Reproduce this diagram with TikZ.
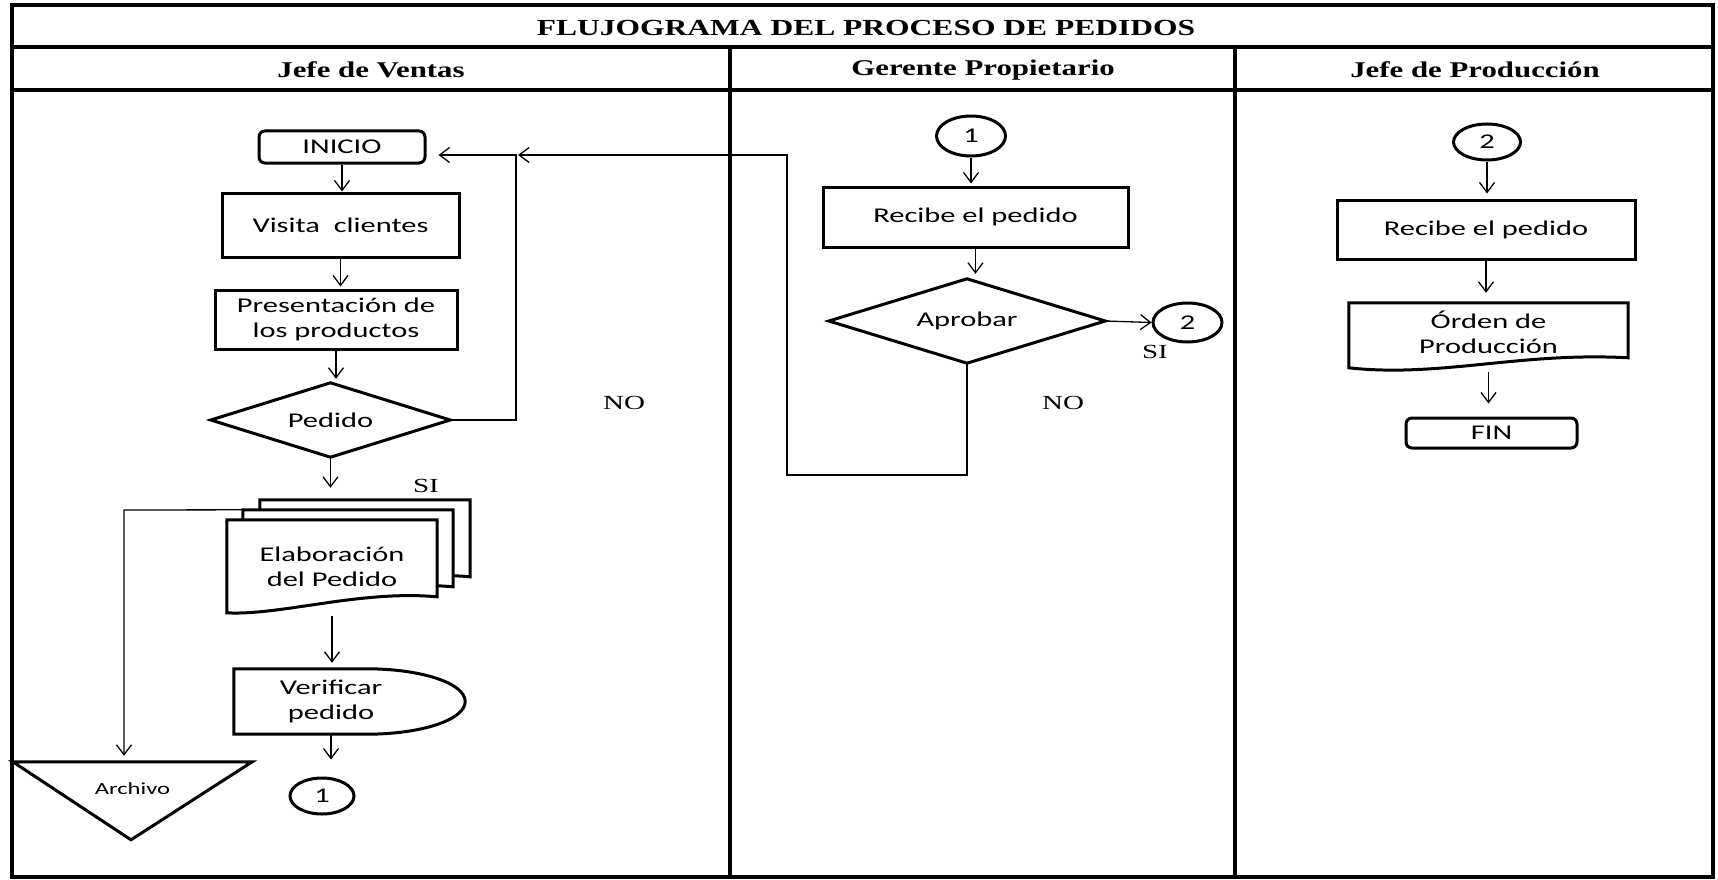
\documentclass[tikz,border=0pt]{standalone}
\usepackage{fontspec}
\setmainfont[FakeStretch=1.45]{Carlito}
\newfontfamily\headfont[FakeStretch=1.37]{Liberation Serif}
\newfontfamily\lblfont[FakeStretch=1.45]{Liberation Serif}
\usetikzlibrary{shapes.geometric,arrows.meta,calc,backgrounds}

\begin{document}
\begin{tikzpicture}[x=1pt,y=-1pt,
  every node/.style={font=\fontsize{21}{25}\selectfont, align=center, inner sep=0pt},
  shapeline/.style={line width=3pt, draw=black, fill=white},
  procbox/.style={shapeline, rectangle},
  termbox/.style={shapeline, rectangle, rounded corners=6pt},
  connbox/.style={shapeline, ellipse},
  holder/.style={rectangle, draw=none},
  frameline/.style={line width=4pt},
  arr/.style={line width=1.3pt, -{Straight Barb[length=10pt,width=15pt]}},
  lbl/.style={font=\lblfont\fontsize{20}{24}\selectfont},
  head/.style={font=\headfont\bfseries\fontsize{22.5}{27}\selectfont},
  titlehead/.style={font=\headfont\bfseries\fontsize{23}{28}\selectfont},
]
\useasboundingbox (0,0) rectangle (1718,880);

% ---------- table frame ----------
\draw[frameline] (12,5) rectangle (1713,877);
\draw[frameline] (12,47) -- (1713,47);
\draw[frameline] (12,90) -- (1713,90);
\draw[frameline] (730,47) -- (730,877);
\draw[frameline] (1235,47) -- (1235,877);

\node[titlehead] (ttl) at (866,28) {FLUJOGRAMA DEL PROCESO DE PEDIDOS};
\node[head] (h1) at (371,70) {Jefe de Ventas};
\node[head] (h2) at (983,70) {Gerente Propietario};
\node[head] (h3) at (1475,70) {Jefe de Producción};

% ---------- Jefe de Ventas ----------
\node[termbox, minimum width=166pt, minimum height=32pt] (ini) at (342,147) {INICIO};
\node[procbox, minimum width=237pt, minimum height=64pt] (vis) at (340.5,225) {Visita\ \ clientes};
\node[procbox, minimum width=242pt, minimum height=59pt] (pres) at (336,319.5) {Presentación de\\los productos};
\node[holder, minimum width=239pt, minimum height=74pt] (ped) at (330.5,420) {Pedido};
\node[holder, minimum width=210pt, minimum height=93pt] (elab) at (332,566.5) {Elaboración\\del Pedido};
\node[holder, minimum width=194pt, minimum height=65pt] (verif) at (331,701.5) {Verificar\\pedido};
\node[holder, minimum width=239pt, minimum height=54pt, font=\fontsize{17}{20}\selectfont] (arch) at (132.5,789) {Archivo};
\node[connbox, minimum width=64pt, minimum height=36pt] (c1a) at (322,796) {1};

% ---------- Gerente Propietario ----------
\node[connbox, minimum width=69pt, minimum height=40pt] (c1b) at (971,136) {1};
\node[procbox, minimum width=305pt, minimum height=60pt] (recg) at (975.5,217) {Recibe el pedido};
\node[holder, minimum width=276pt, minimum height=84pt] (apr) at (967,321) {Aprobar};
\node[connbox, minimum width=69pt, minimum height=39pt] (c2a) at (1187.5,322.5) {2};

% ---------- Jefe de Produccion ----------
\node[connbox, minimum width=67pt, minimum height=36pt] (c2b) at (1487,142) {2};
\node[procbox, minimum width=298pt, minimum height=59pt] (recp) at (1486,229.5) {Recibe el pedido};
\node[holder, minimum width=279pt, minimum height=58pt] (orden) at (1488.5,332) {Órden de\\Producción};
\node[termbox, minimum width=171pt, minimum height=30pt] (fin) at (1491.5,433) {FIN};

% ---------- outlines of the special symbols ----------
\begin{pgfonlayer}{background}
  \fill[white] (0,0) rectangle (1718,880);
  % decisions
  \foreach \d in {ped, apr} {
    \draw[shapeline, line join=miter] (\d.north) -- (\d.east) -- (\d.south) -- (\d.west) -- cycle;
  }
  % stacked documents
  \foreach \dx/\dy in {33/-20, 16/-10, 0/0} {
    \draw[shapeline] ($(elab.north west)+(\dx,\dy)$) -- ($(elab.north east)+(\dx,\dy)$)
      -- ($(elab.north east)+(\dx,\dy+77)$)
      .. controls ($(elab.north east)+(\dx-77,\dy+70)$) and ($(elab.north west)+(\dx+53,\dy+96)$)
      .. ($(elab.north west)+(\dx,\dy+93)$) -- cycle;
  }
  % delay symbol
  \draw[shapeline] (verif.north west) -- ($(verif.north west)+(133,0)$)
    .. controls ($(verif.north west)+(187,0)$) and ($(verif.east)+(37,-18.5)$) .. ($(verif.east)+(37,0)$)
    .. controls ($(verif.east)+(37,18.5)$) and ($(verif.south west)+(187,0)$) .. ($(verif.south west)+(133,0)$)
    -- (verif.south west) -- cycle;
  % file (merge) triangle
  \draw[shapeline] (arch.north west) -- (arch.north east) -- ($(arch.north)+(-1.5,78)$) -- cycle;
  % document
  \draw[shapeline] (orden.north west) -- (orden.north east) -- ($(orden.north east)+(0,55)$)
    .. controls ($(orden.north east)+(-108,49)$) and ($(orden.north west)+(91,75)$)
    .. ($(orden.north west)+(0,65)$) -- cycle;
\end{pgfonlayer}

% ---------- connectors ----------
\coordinate (ret) at (516,155);
\coordinate (nob) at (787,475);
\coordinate (mdl) at ($(elab.north west)+(16,-10)$);
\coordinate (arc) at (124,510);

\draw[arr] (ini.south) -- (ini.south |- vis.north);
\draw[arr, shorten >=2pt] (vis.south) -- (vis.south |- pres.north);
\draw[arr, shorten >=4pt] (pres.south) -- (pres.south |- ped.north);
\draw[arr, shorten >=32pt] (ped.south) -- (ped.south |- elab.north);
\draw[arr, shorten >=12pt] (ped.east) -| (ret) -- (ret -| ini.east);
\draw[arr, shorten >=6pt] (mdl) -- (arc) -- (arc |- arch.north);
\draw[arr, shorten >=6pt, shorten <=3pt] (elab.south) -- (elab.south |- verif.north);
\draw[arr, shorten >=17pt] (verif.south) -- (verif.south |- c1a.north);

\draw[arr, shorten >=2pt] (c1b.south) -- (c1b.south |- recg.north);
\draw[arr, shorten >=5pt] (recg.south) -- (recg.south |- apr.north);
\draw[arr] (apr.east) -- (c2a.west);
\draw[arr, shorten >=2pt] (apr.south) -- (apr.south |- nob) -- (nob) |- (ret);

\draw[arr, shorten >=5pt] (c2b.south) -- (c2b.south |- recp.north);
\draw[arr, shorten >=10pt] (recp.south) -- (recp.south |- orden.north);
\draw[arr, shorten >=13pt, shorten <=11pt] (orden.south) -- (orden.south |- fin.north);

% ---------- branch labels ----------
\node[lbl] (si1) at (426,486) {SI};
\node[lbl] (no1) at (624,403) {NO};
\node[lbl] (si2) at (1155,352) {SI};
\node[lbl] (no2) at (1063,403) {NO};
\end{tikzpicture}
\end{document}
